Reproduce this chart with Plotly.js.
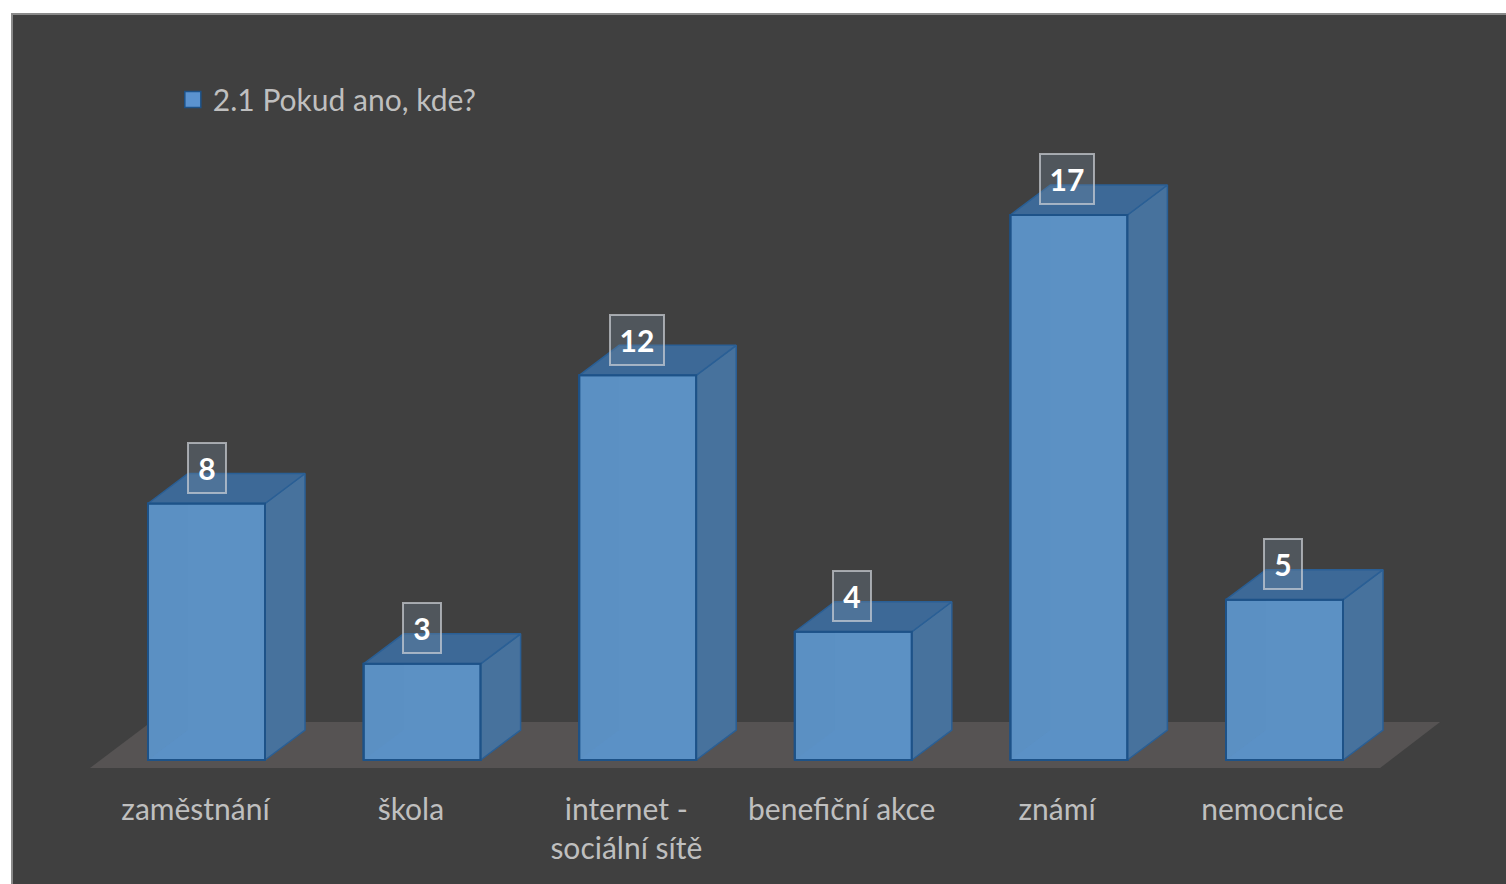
<!DOCTYPE html>
<html>
<head>
<meta charset="utf-8">
<script src="https://cdn.plot.ly/plotly-3.0.1.min.js"></script>
<style>html,body{margin:0;padding:0;background:#fff;overflow:hidden}#chart{width:1506px;height:884px}</style>
</head>
<body>
<div id="chart"></div>
<script>
// Survey answers: where respondents came across the topic
const categories = ['zaměstnání', 'škola', 'internet -<br>sociální sítě', 'benefiční akce', 'známí', 'nemocnice'];
const counts = [8, 3, 12, 4, 17, 5];
const seriesName = '2.1 Pokud ano, kde?';

const positions = categories.map((_, i) => i);

// Pseudo-3D extrusion, in axis units
const X_UNIT = 215.6;
const Y_UNIT = 32.06;
const BAR_WIDTH = 117 / X_UNIT;
const DEPTH_X = 40 / X_UNIT;
const DEPTH_Y = 30 / Y_UNIT;
const half = BAR_WIDTH / 2;

// Floor plane extents, in axis units
const FLOOR_FRONT = [-0.5404, 5.4434];
const FLOOR_BACK = [-0.2574, 5.7217];
const FLOOR_Y = [-0.2495, 1.185];

const EDGE = '#1d5288';

function polygonTrace(xs, ys, fill, lineColor, lineWidth) {
  return {
    x: xs, y: ys, type: 'scatter', mode: 'lines', fill: 'toself', fillcolor: fill,
    line: {color: lineColor, width: lineWidth}, hoverinfo: 'skip', showlegend: false, xaxis: 'x', yaxis: 'y'
  };
}

const traces = [];

// Front faces
traces.push({
  x: positions, y: counts, type: 'bar', width: BAR_WIDTH, name: seriesName, showlegend: false,
  marker: {color: '#5b90c3', line: {color: EDGE, width: 2}}, hoverinfo: 'x+y', xaxis: 'x', yaxis: 'y'
});

// Inner walls seen through the translucent front
counts.forEach((v, i) => {
  const l = i - half, r = i + half;
  traces.push(polygonTrace(
    [l + DEPTH_X, r, r, l + DEPTH_X, l + DEPTH_X], [DEPTH_Y, DEPTH_Y, v, v, DEPTH_Y],
    'rgba(120,170,215,0.07)', 'rgba(0,0,0,0)', 0));
  traces.push(polygonTrace(
    [l, r, r, l + DEPTH_X, l], [0, 0, DEPTH_Y, DEPTH_Y, 0],
    'rgba(95,160,235,0.09)', 'rgba(0,0,0,0)', 0));
});

// Side and top faces of each column
counts.forEach((v, i) => {
  const l = i - half, r = i + half;
  traces.push(polygonTrace(
    [r, r + DEPTH_X, r + DEPTH_X, r, r],
    [0, DEPTH_Y, v + DEPTH_Y, v, 0],
    '#47729d', '#2a5f95', 1.5));
  traces.push(polygonTrace(
    [l, r, r + DEPTH_X, l + DEPTH_X, l],
    [v, v, v + DEPTH_Y, v + DEPTH_Y, v],
    '#3d6997', '#2a5f95', 1.5));
  // Dark outline of the front face, on top of the neighbouring faces
  traces.push({
    x: [l, l, r, r, l], y: [0, v, v, 0, 0], type: 'scatter', mode: 'lines',
    line: {color: EDGE, width: 2}, hoverinfo: 'skip', showlegend: false, xaxis: 'x', yaxis: 'y'
  });
});

// Category labels on their own axis
traces.push({
  x: categories, y: counts.map(() => 0), type: 'scatter', mode: 'none',
  hoverinfo: 'skip', showlegend: false, xaxis: 'x2', yaxis: 'y'
});

// Legend entry
traces.push({
  x: positions, y: counts.map(() => null), type: 'scatter', mode: 'markers', name: seriesName,
  marker: {symbol: 'square', size: 16, color: '#5b93d0', line: {color: '#1d5288', width: 1.5}},
  hoverinfo: 'skip', xaxis: 'x', yaxis: 'y'
});

const valueLabels = counts.map((v, i) => ({
  x: i, y: v, xref: 'x', yref: 'y', yshift: 35.5, xshift: -0.4 * i,
  text: '<b>' + v + '</b>', showarrow: false, xanchor: 'center', yanchor: 'middle',
  width: String(v).length > 1 ? 52 : 36, height: 48, borderpad: 0, borderwidth: 2,
  bordercolor: 'rgba(205,210,215,0.7)', bgcolor: 'rgba(120,140,160,0.3)',
  font: {family: 'Lato, sans-serif', size: 30, color: '#ffffff'}
}));

const floorPath = 'M' + FLOOR_FRONT[0] + ',' + FLOOR_Y[0] + 'L' + FLOOR_FRONT[1] + ',' + FLOOR_Y[0] +
  'L' + FLOOR_BACK[1] + ',' + FLOOR_Y[1] + 'L' + FLOOR_BACK[0] + ',' + FLOOR_Y[1] + 'Z';

const layout = {
  width: 1506, height: 884,
  margin: {l: 12, r: 0, t: 14, b: 116, pad: 0},
  paper_bgcolor: '#ffffff',
  plot_bgcolor: '#404040',
  showlegend: true,
  legend: {
    x: 0.113, y: 0.921, xanchor: 'left', yanchor: 'top', bgcolor: 'rgba(0,0,0,0)', indentation: -8,
    font: {family: 'Lato, sans-serif', size: 30, color: '#bfbfbf'}
  },
  xaxis: {type: 'linear', range: [(12 - 206.5) / X_UNIT, (1506 - 206.5) / X_UNIT], showgrid: false, zeroline: false, showline: false,
          showticklabels: false, ticks: '', fixedrange: true},
  xaxis2: {type: 'category', categoryorder: 'array', categoryarray: categories, overlaying: 'x', anchor: 'y', side: 'bottom',
           range: [-0.8519, 6.084], showgrid: false, zeroline: false, showline: false, ticks: 'outside', ticklen: 15,
           tickcolor: 'rgba(0,0,0,0)', tickfont: {family: 'Lato, sans-serif', size: 30, color: '#bfbfbf'},
           tickangle: 0, fixedrange: true, automargin: false},
  yaxis: {range: [-0.2495, 23.269], showgrid: false, zeroline: false, showline: false, showticklabels: false,
          ticks: '', fixedrange: true},
  annotations: valueLabels,
  shapes: [
    // Chart panel background reaching below the plot area, framed on top and left
    {type: 'rect', xref: 'paper', yref: 'paper', x0: 0, x1: 1.01, y0: -0.2, y1: 1, layer: 'below',
     fillcolor: '#404040', line: {color: '#8a8a8a', width: 2}},
    // Floor plane under the columns
    {type: 'path', xref: 'x', yref: 'y', path: floorPath, layer: 'below',
     fillcolor: '#565353', line: {width: 0}}
  ]
};

Plotly.newPlot('chart', traces, layout, {displayModeBar: false});
</script>
</body>
</html>
